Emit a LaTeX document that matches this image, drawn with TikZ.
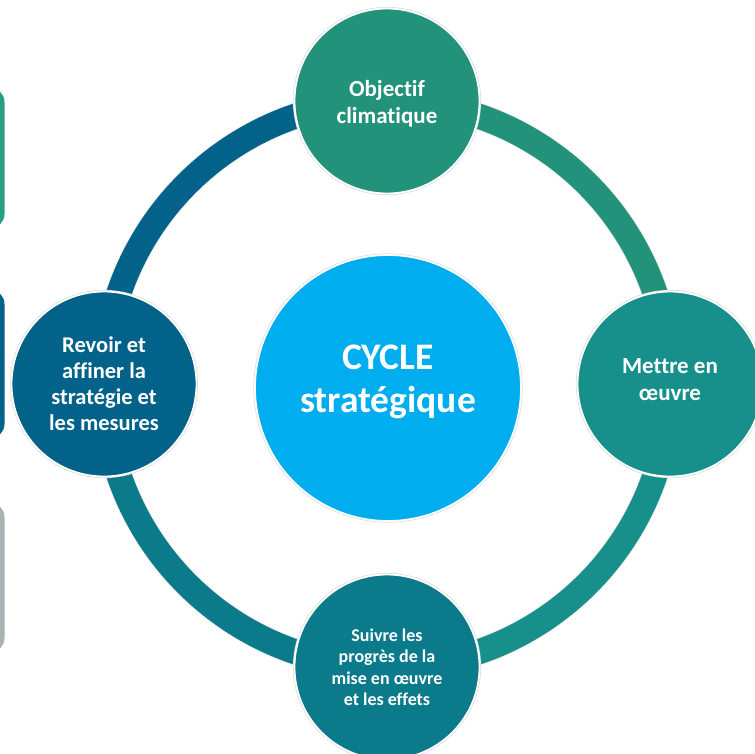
\documentclass[tikz,border=0pt]{standalone}
\usepackage{fontspec}
\setmainfont{Carlito}[RawFeature={-liga;-clig;-dlig}]
\usetikzlibrary{backgrounds}
\definecolor{cTop}{HTML}{23927A}
\definecolor{cRight}{HTML}{17908B}
\definecolor{cBottom}{HTML}{0B7A8A}
\definecolor{cLeft}{HTML}{02628A}
\definecolor{cCenter}{HTML}{00ADEF}
\definecolor{sGreen}{HTML}{2A9D85}
\definecolor{sBlue}{HTML}{02628A}
\definecolor{sGray}{HTML}{A9B1B5}
\tikzset{
  stage/.style={circle, fill=#1, draw=white, line width=1.8pt,
    preaction={draw=black!14, line width=3.2pt},
    minimum size=185pt, inner sep=0pt},
  hub/.style={circle, fill=cCenter, draw=white, line width=1.8pt,
    preaction={draw=black!14, line width=3.2pt},
    minimum size=266pt, inner sep=0pt},
  txt/.style 2 args={text=white, align=center, inner sep=0pt, font=\bfseries\fontsize{#1}{#2}\selectfont},
  seg/.style={draw=#1, line width=25pt,
    preaction={draw=black!10, line width=26.4pt}},
  sliver/.style={fill=#1, rounded corners=14pt}
}
\begin{document}
\begin{tikzpicture}[x=1pt,y=1pt]
\useasboundingbox (0,0) rectangle (755,-753);
\clip (0,0) rectangle (755,-753);
\coordinate (c) at (387,-384);
% partial boxes at the left edge
\fill[sliver=sGreen] (-60,-88) rectangle (4.5,-228);
\fill[sliver=sBlue] (-60,-290) rectangle (4.5,-438);
\fill[sliver=sGray] (-60,-503) rectangle (4.5,-652);
% stages
\node[stage=cTop] (obj) at ([shift={(90:283)}]c) {};
\node[stage=cRight] (mettre) at ([shift={(0:283)}]c) {};
\node[stage=cBottom] (suivre) at ([shift={(270:283)}]c) {};
\node[stage=cLeft] (revoir) at ([shift={(180:283)}]c) {};
\node[hub] (cycle) at (388,-388) {};
% texts
\node[txt={23}{27}] (objT) at ([yshift=-3pt]obj.center) {Objectif\\climatique};
\node[txt={23}{27}] (mettreT) at ([yshift=4pt]mettre.center) {Mettre en\\œuvre};
\node[txt={18}{21.5}] (suivreT) at (suivre.center) {Suivre les\\progrès de la\\mise en œuvre\\et les effets};
\node[txt={22.5}{26}] (revoirT) at (revoir.center) {Revoir et\\affiner la\\stratégie et\\les mesures};
\node[txt={37.5}{43}] (cycleT) at ([yshift=6pt]cycle.center) {CYCLE\\stratégique};
% ring segments
\begin{scope}[on background layer]
\draw[seg=cTop] (obj.center) arc[start angle=90, end angle=0, radius=283];
\draw[seg=cRight] (mettre.center) arc[start angle=0, end angle=-90, radius=283];
\draw[seg=cBottom] (suivre.center) arc[start angle=270, end angle=180, radius=283];
\draw[seg=cLeft] (revoir.center) arc[start angle=180, end angle=90, radius=283];
\end{scope}
\end{tikzpicture}
\end{document}
